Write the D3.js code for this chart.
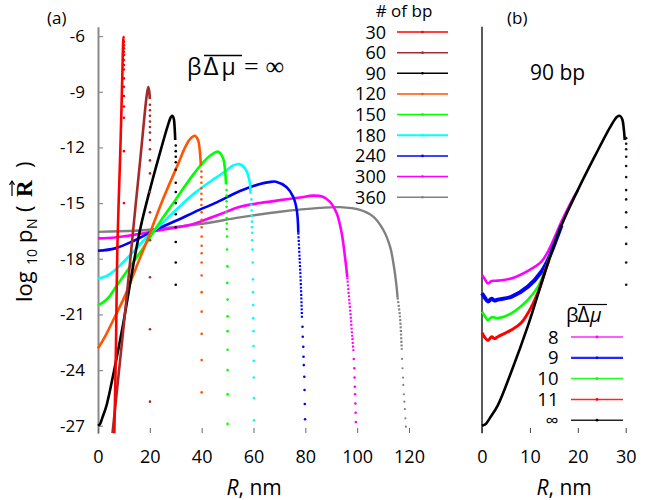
<!DOCTYPE html>
<html><head><meta charset="utf-8">
<script src="https://cdn.jsdelivr.net/npm/d3@7"></script>
<style>
body{margin:0;background:#fff}
svg{display:block}
text{font-family:'Open Sans',sans-serif;fill:#000}
</style>
</head><body>
<svg id="c" width="647" height="500"></svg>
<script>
// ---------------- DATA ----------------
const bpLabels = ["30","60","90","120","150","180","240","300","360"];
const bpColors = ["#ff0000","#a52a2a","#000000","#ff5500","#00ff00","#00ffff","#0000ff","#ff00ff","#808080"];
const xTicksA = [0,20,40,60,80,100,120];
const xTicksB = [0,10,20,30];
const yTicks = [-6,-9,-12,-15,-18,-21,-24,-27];

// panel (a): solid part of each curve [R nm, log10 p]
const line30 = [[6.3,-27.4],[6.7,-24.6],[7.0,-22.0],[7.45,-17.5],[8.0,-14.8],[8.5,-12.7],[9.0,-10.2],[9.4,-8.0],[9.7,-6.4],[9.85,-6.05],[9.95,-6.1]];
const line60 = [[5.6,-27.4],[8.5,-23.5],[11.1,-20.0],[13.6,-16.4],[16.2,-12.8],[17.8,-10.5],[18.8,-9.2],[19.4,-8.75],[19.8,-9.0],[20.0,-9.4]];
const line90 = [[0,-27.0],[0.8,-26.9],[1.6,-26.6],[3.3,-25.9],[6.1,-24.1],[9.6,-21.6],[13.8,-18.2],[16.6,-16.2],[20.0,-14.3],[23.5,-12.5],[27.0,-10.8],[28.2,-10.35],[28.8,-10.3],[29.3,-10.5],[29.6,-11.0],[29.8,-11.6]];
const line120 = [[0,-22.83],[2.7,-22.2],[6.6,-21.1],[10.4,-20.0],[14.5,-18.55],[19.4,-16.85],[24.6,-14.95],[31.0,-12.86],[33.6,-12.0],[35.5,-11.55],[37.4,-11.37],[38.6,-11.6],[39.3,-12.2],[39.7,-13.0]];
const line150 = [[0,-20.5],[2,-20.35],[4,-20.1],[7,-19.5],[11,-18.7],[17.5,-17.4],[24,-16.0],[30,-14.8],[36,-13.6],[40,-12.9],[43.2,-12.45],[46.4,-12.23],[48.3,-12.6],[49.0,-13.2],[49.4,-14.0]];
const line180 = [[0,-19.06],[3,-18.95],[6.6,-18.6],[11.7,-17.9],[18.1,-16.95],[24.6,-16.1],[31,-15.25],[37.4,-14.45],[45.1,-13.67],[49,-13.3],[52.2,-12.97],[54.5,-12.9],[56.7,-13.13],[58.4,-13.76],[58.9,-14.5]];
const line240 = [[0,-17.57],[6.6,-17.44],[14.3,-17.0],[22,-16.45],[31,-15.9],[37.4,-15.47],[45.1,-15.0],[54.8,-14.35],[62.5,-13.97],[66,-13.87],[68.7,-13.85],[72.8,-14.15],[75.3,-14.66],[76.7,-15.38],[77.3,-16.6]];
const line300 = [[0,-16.9],[6.6,-16.85],[14.3,-16.7],[24.6,-16.45],[34.8,-16.2],[39.4,-16.0],[47.1,-15.6],[54.8,-15.2],[62.5,-15.0],[70.2,-14.84],[77.9,-14.7],[83,-14.6],[86.5,-14.65],[89.5,-14.93],[92.1,-15.55],[94,-16.6],[95.3,-17.9],[96.2,-19.0]];
const line360 = [[0,-16.55],[14.3,-16.49],[24.6,-16.37],[39.4,-16.13],[54.8,-15.77],[70.2,-15.47],[85.6,-15.26],[93.4,-15.22],[101.1,-15.37],[106.2,-15.73],[110.1,-16.45],[112.7,-17.35],[114.2,-18.43],[115.2,-19.5],[115.6,-20.1]];

// dense dotted part of the cliffs
const dense240 = [[77.3,-16.6],[77.8,-18.0],[78.3,-19.5],[78.7,-21.2]];
const dense300 = [[96.2,-19.0],[96.8,-20.0],[97.5,-21.1],[98.1,-22.2],[98.6,-23.0]];
const dense360 = [[115.6,-20.1],[116.5,-21.1],[117.2,-22.9]];

// sparse sample points on the cliffs
const dots30 = [[10,-6.3],[10,-6.5],[10,-6.66],[10,-6.85],[10,-7.02],[10,-7.29],[10,-7.56],[10,-7.8],[10,-8.28],[10,-8.73],[10,-9.23],[10,-9.8],[10,-10.4],[10,-12.2],[10,-15.0]];
const dots60 = [[20.05,-9.7],[20.05,-10.0],[20.05,-10.3],[20.05,-10.6],[20.05,-10.9],[20.05,-11.2],[20.05,-11.6],[20.05,-12.1],[20.05,-12.7],[20.05,-13.4],[20.05,-14.4],[20.05,-15.5],[20.05,-17.0],[20.05,-19.0],[20.05,-21.8],[20.05,-25.7]];
const dots90 = [[30,-11.9],[30,-12.2],[30,-12.5],[30,-12.8],[30,-13.2],[30,-13.9],[30,-14.4],[30,-15.0],[30,-15.6],[30,-16.3],[30,-17.1],[30,-18.2],[30,-19.4]];
const dots120 = [[39.9,-13.3],[39.9,-13.6],[39.9,-13.9],[39.9,-14.2],[39.9,-14.5],[39.9,-14.8],[39.9,-15.1],[40,-15.5],[40,-15.9],[40,-16.3],[40,-16.8],[40,-17.3],[40,-17.7],[40,-18.2],[40,-18.9],[40,-19.8],[40,-20.85],[40,-22.05],[40,-23.46],[40,-25.2]];
const dots150 = [[49.6,-14.3],[49.6,-14.6],[49.6,-14.9],[49.6,-15.2],[49.6,-15.5],[49.7,-15.8],[49.7,-16.1],[49.7,-16.4],[49.8,-16.8],[49.8,-17.5],[49.9,-18.4],[49.9,-19.3],[50,-20.2],[50,-21.1],[50,-21.9],[50,-22.9],[50,-24.0],[50,-25.3],[50,-26.9]];
const dots180 = [[59.2,-14.8],[59.2,-15.1],[59.3,-15.4],[59.3,-15.7],[59.4,-16.0],[59.4,-16.3],[59.5,-16.6],[59.5,-17.0],[59.6,-17.5],[59.7,-18.2],[59.8,-19.1],[59.8,-19.8],[59.9,-20.5],[59.9,-21.2],[60,-21.9],[60,-22.7],[60.1,-23.5],[60.1,-24.4],[60.2,-25.5],[60.2,-26.7]];
const dots240 = [[78.9,-21.66],[79.0,-22.2],[79.2,-22.74],[79.3,-23.28],[79.4,-23.73],[79.6,-24.36],[79.7,-25.07],[79.8,-25.83],[79.9,-26.65]];
const dots300 = [[98.7,-23.4],[98.9,-23.9],[99.0,-24.4],[99.1,-24.9],[99.2,-25.3],[99.3,-25.8],[99.4,-26.3],[99.5,-26.8]];
const dots360 = [[117.3,-23.4],[117.5,-23.9],[117.7,-24.4],[117.8,-24.8],[118.0,-25.3],[118.2,-25.7],[118.4,-26.1],[118.6,-26.6],[118.8,-27.05]];

// panel (b): 90 bp at finite beta*dmu
const betaLabels = ["8","9","10","11","\u221e"];
const betaColors = ["#ff00ff","#0000ff","#00ff00","#ff0000","#000000"];
const beta8 = [[0,-18.88],[0.6,-19.1],[1.25,-19.33],[2.0,-19.2],[3.3,-19.18],[6.1,-19.06],[9.6,-18.65],[12.4,-18.15],[13.8,-17.6],[16.6,-16.0],[18.5,-15.0],[20,-14.3]];
const beta9 = [[0,-19.86],[0.6,-20.1],[1.25,-20.3],[2.0,-20.15],[2.6,-20.25],[3.3,-20.2],[6.1,-20.05],[9.6,-19.5],[12.4,-18.7],[13.8,-18.05],[15.0,-17.3],[16.6,-16.2]];
const beta10 = [[0,-20.85],[0.6,-21.1],[1.25,-21.3],[2.0,-21.15],[3.3,-21.2],[6.1,-20.94],[9.6,-20.2],[11.7,-19.5],[13.4,-18.45],[14.5,-17.6]];
const beta11 = [[0,-21.98],[0.6,-22.25],[1.25,-22.4],[2.0,-22.2],[2.6,-22.3],[3.3,-22.2],[6.1,-21.84],[8.2,-21.45],[10.3,-20.6],[12.0,-19.6],[13.4,-18.5],[14.0,-18.05]];
const betaInf = line90;
const dotsInf = [[30.1,-11.5],[30.1,-11.8],[30.1,-12.1],[30.1,-12.5],[30.1,-13.0],[30.1,-13.6],[30.1,-14.3],[30.1,-14.8],[30.1,-15.5],[30.1,-16.3],[30.1,-17.2],[30.1,-18.2],[30.1,-19.4]];

// ---------------- DRAW ----------------
const svg = d3.select('#c');
const xA = d3.scaleLinear().domain([0,120]).range([98,409]);
const xB = d3.scaleLinear().domain([0,30]).range([482,625.7]);
const y = d3.scaleLinear().domain([-27.4,-5.5]).range([433.2,26.8]);

const linesA = [line30,line60,line90,line120,line150,line180,line240,line300,line360];
const denseA = [[],[],[],[],[],[],dense240,dense300,dense360];
const dotsA = [dots30,dots60,dots90,dots120,dots150,dots180,dots240,dots300,dots360];

// axes panel (a)
const yAxisA = d3.axisLeft(y).tickValues(yTicks).tickSizeInner(-5).tickSizeOuter(0).tickPadding(13).tickFormat(d=>d);
const gy = svg.append('g').attr('transform','translate(98,0)').call(yAxisA);
gy.select('.domain').attr('stroke','#8a8a8a').attr('stroke-width',2);
gy.selectAll('.tick line').attr('stroke','#8a8a8a').attr('stroke-width',1.2);
gy.selectAll('.tick text').attr('font-size',17).attr('font-family',"'Open Sans',sans-serif");

const xAxisA = d3.axisBottom(xA).tickValues(xTicksA).tickSizeInner(-5).tickSizeOuter(0).tickPadding(17.5).tickFormat(d=>d);
const gxA = svg.append('g').attr('transform','translate(0,433)').call(xAxisA);
gxA.select('.domain').remove();
gxA.selectAll('.tick line').attr('stroke','#666').attr('stroke-width',1);
gxA.selectAll('.tick text').attr('font-size',18).attr('font-family',"'Open Sans',sans-serif");

// axes panel (b)
svg.append('line').attr('x1',xB(0)).attr('x2',xB(0)).attr('y1',y(-5.5)).attr('y2',y(-27.4)).attr('stroke','#000').attr('stroke-width',1.3);
const xAxisB = d3.axisBottom(xB).tickValues(xTicksB).tickSizeInner(-5).tickSizeOuter(0).tickPadding(17.5).tickFormat(d=>d);
const gxB = svg.append('g').attr('transform','translate(0,433)').call(xAxisB);
gxB.select('.domain').remove();
gxB.selectAll('.tick line').attr('stroke','#444').attr('stroke-width',1);
gxB.selectAll('.tick text').attr('font-size',18).attr('font-family',"'Open Sans',sans-serif");

const mkLine = xs => d3.line().x(d=>xs(d[0])).y(d=>y(d[1])).curve(d3.curveCatmullRom.alpha(0.5));

// curves panel (a): longest first so shortest is on top
for (let i = linesA.length-1; i >= 0; i--) {
  const c = bpColors[i];
  const sw = i===8 ? 2.4 : 2.6;
  svg.append('path').datum(linesA[i]).attr('d',mkLine(xA)).attr('fill','none').attr('stroke',c).attr('stroke-width',sw).attr('stroke-linejoin','round');
  if (denseA[i].length) {
    svg.append('path').datum(denseA[i]).attr('d',mkLine(xA)).attr('fill','none').attr('stroke',c).attr('stroke-width',2.2).attr('stroke-dasharray','2,1.6');
  }
  svg.append('g').selectAll('circle').data(dotsA[i]).join('circle')
    .attr('cx',d=>xA(d[0])).attr('cy',d=>y(d[1])).attr('r', i===8 ? 1.1 : 1.3).attr('fill',c);
}

// curves panel (b)
const linesB = [beta8,beta9,beta10,beta11,betaInf];
const widthsB = [2.6,4,2.6,3,2.6];
linesB.forEach((ln,i)=>{
  svg.append('path').datum(ln).attr('d',mkLine(xB)).attr('fill','none').attr('stroke',betaColors[i]).attr('stroke-width',widthsB[i]).attr('stroke-linejoin','round');
});
svg.append('g').selectAll('circle').data(dotsInf).join('circle')
  .attr('cx',d=>xB(d[0])).attr('cy',d=>y(d[1])).attr('r',1.3).attr('fill','#2b0a1a');

// legend (a)
svg.append('text').attr('x',404).attr('y',17).attr('text-anchor','middle').attr('font-size',17).text('# of bp');
bpLabels.forEach((lab,i)=>{
  const cy = 32 + i*20.65;
  svg.append('text').attr('x',386).attr('y',cy+6.5).attr('text-anchor','end').attr('font-size',18).text(lab);
  svg.append('line').attr('x1',397).attr('x2',448).attr('y1',cy).attr('y2',cy).attr('stroke',bpColors[i]).attr('stroke-width', i===5 ? 2.2 : 1.5);
  svg.append('circle').attr('cx',422.5).attr('cy',cy).attr('r',1.3).attr('fill',bpColors[i]);
});

// legend (b)
const lbt = svg.append('text').attr('y',321.5).attr('font-size',20).attr('font-family',"'DejaVu Serif',serif");
lbt.append('tspan').attr('x',566).text('\u03b2');
lbt.append('tspan').attr('x',577.5).attr('font-size',21).text('\u0394');
lbt.append('tspan').attr('x',590).attr('font-style','italic').text('\u03bc');
svg.append('line').attr('x1',578).attr('x2',607).attr('y1',304.5).attr('y2',304.5).attr('stroke','#000').attr('stroke-width',1.2);
betaLabels.forEach((lab,i)=>{
  const cy = 337 + i*20.8;
  svg.append('text').attr('x',558.5).attr('y',cy+6.6).attr('text-anchor','end').attr('font-size',18.5).text(lab);
  svg.append('line').attr('x1',571).attr('x2',623).attr('y1',cy).attr('y2',cy).attr('stroke',betaColors[i]).attr('stroke-width', i===1 ? 2.2 : 1.5).attr('opacity',0.85);
  svg.append('circle').attr('cx',597).attr('cy',cy).attr('r',1.4).attr('fill',betaColors[i]);
});

// titles
svg.append('text').attr('x',47).attr('y',23.5).attr('font-size',17).text('(a)');
svg.append('text').attr('x',507).attr('y',23.5).attr('font-size',17).text('(b)');
svg.append('text').attr('x',530).attr('y',80).attr('font-size',21).text('90 bp');

const tt = svg.append('text').attr('y',74.5).attr('font-size',23).attr('font-family',"'DejaVu Serif',serif");
tt.append('tspan').attr('x',187).text('\u03b2');
tt.append('tspan').attr('x',203.5).attr('font-size',26).text('\u0394');
tt.append('tspan').attr('x',221.5).text('\u03bc');
tt.append('tspan').attr('x',244).attr('font-family',"'Liberation Serif',serif").attr('font-size',26).text('=');
tt.append('tspan').attr('x',265.5).attr('font-family',"'Liberation Serif',serif").attr('font-size',26).text('\u221e');
svg.append('line').attr('x1',204).attr('x2',242).attr('y1',55.5).attr('y2',55.5).attr('stroke','#000').attr('stroke-width',1.3);

// x labels
[226.5, 536.5].forEach(x0=>{
  const t = svg.append('text').attr('x',x0).attr('y',495).attr('font-size',21);
  t.append('tspan').attr('font-style','italic').text('R');
  t.append('tspan').text(', nm');
});

// y label (rotated): local x = 302 - screen y
const gyl = svg.append('g').attr('transform','translate(32,302) rotate(-90)');
const yl = gyl.append('text').attr('y',0).attr('font-size',22);
yl.append('tspan').attr('x',0).attr('y',0).text('log');
yl.append('tspan').attr('x',37).attr('y',5).attr('font-size',14).text('10');
yl.append('tspan').attr('x',59).attr('y',0).text('p');
yl.append('tspan').attr('x',73).attr('y',5).attr('font-size',14).text('N');
yl.append('tspan').attr('x',90).attr('y',0).text('(');
yl.append('tspan').attr('x',105).attr('y',0).attr('font-family',"'Liberation Serif',serif").attr('font-weight','bold').attr('font-size',23).text('R');
yl.append('tspan').attr('x',134).attr('y',0).text(')');
const node = yl.node();
const ri = node.textContent.indexOf('R');
const rx0 = node.getStartPositionOfChar(ri).x, rx1 = node.getEndPositionOfChar(ri).x;
gyl.append('line').attr('x1',rx0+1).attr('x2',rx1-1).attr('y1',-20).attr('y2',-20).attr('stroke','#000').attr('stroke-width',1.2);
gyl.append('path').attr('d',`M${rx1-4.5},-22.5 L${rx1-0.8},-20 L${rx1-4.5},-17.5`).attr('fill','none').attr('stroke','#000').attr('stroke-width',1.2);
</script>
</body></html>
